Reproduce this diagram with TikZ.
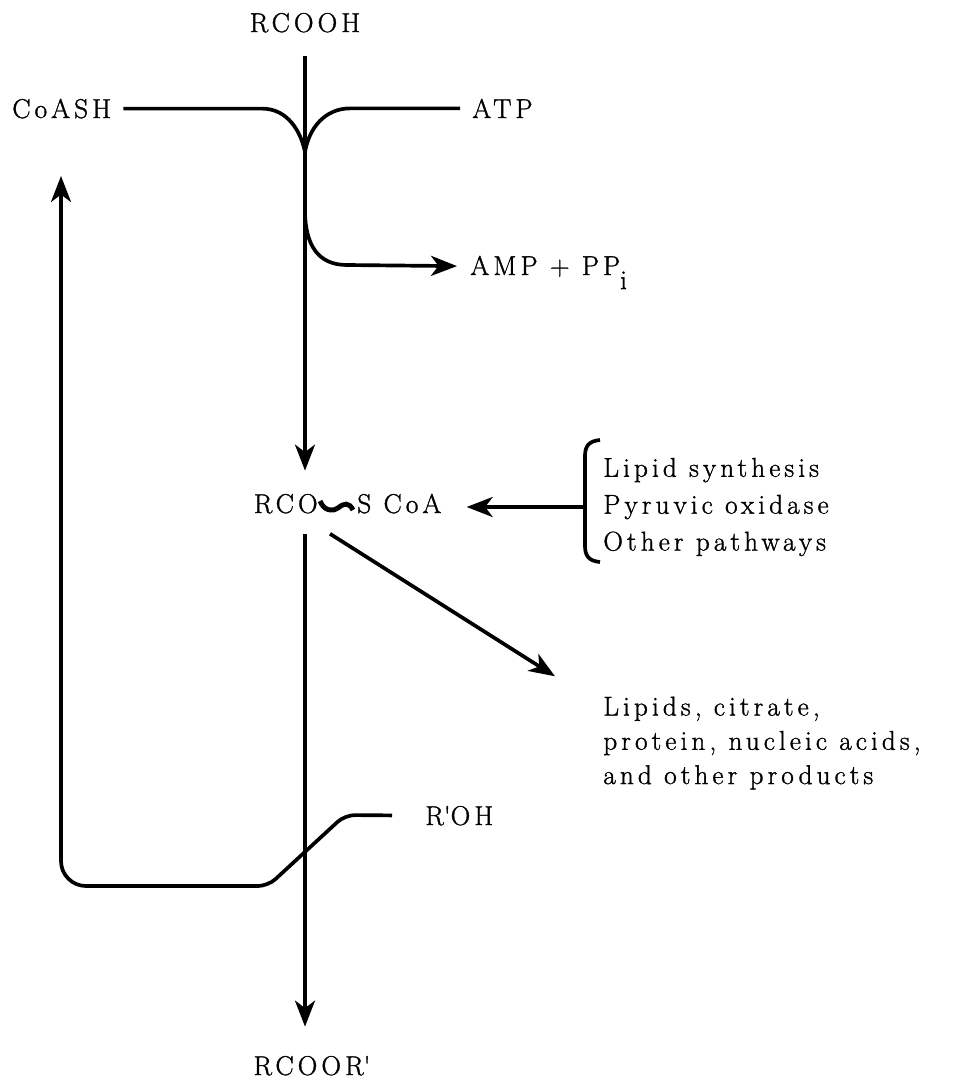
\documentclass[tikz,border=0pt]{standalone}
\usepackage{fontspec}
\setmainfont{Latin Modern Roman}[LetterSpace=15,FakeBold=1.2]
\usetikzlibrary{arrows.meta}
\begin{document}
\begin{tikzpicture}[x=0.02cm,y=-0.02cm,
 font=\fontsize{15.5}{21}\selectfont,
 lbl/.style={inner sep=0pt},
 flow/.style={line width=2.1pt},
 tip/.style={-{Stealth[length=0.52cm,width=0.4cm,inset=0.15cm]}}]
 \useasboundingbox (0,0) rectangle (971,1080);
 \node (rcooh) at (305,32) [lbl,anchor=base] {RCOOH};
 \node (coash) at (12,118) [lbl,anchor=base west] {CoASH};
 \node (atp) at (472,118) [lbl,anchor=base west] {ATP};
 \node (amp) at (470,275) [lbl,anchor=base west] {AMP + PP\smash{\raisebox{-1.2ex}{i}}};
 \node (rco) at (318,513) [lbl,anchor=base east] {RCO};
 \node (scoa) at (357,513) [lbl,anchor=base west] {S CoA};
 \node (srcs) at (603,507) [lbl,anchor=west,align=left] {Lipid synthesis\\Pyruvic oxidase\\Other pathways};
 \node (prods) at (603,743) [lbl,anchor=west,align=left] {Lipids, citrate,\\[-1.5pt]protein, nucleic acids,\\[-1.5pt]and other products};
 \node (roh) at (425,825) [lbl,anchor=base west] {R\textquotesingle OH};
 \node (rcoor) at (312,1075) [lbl,anchor=base] {RCOOR\textquotesingle};
 \coordinate (join) at (305,152);
 \coordinate (split) at (305,210);
 \coordinate (brace) at (585,507);
 \coordinate (ret) at (61,176);
 \draw[flow,tip,shorten <=0.46cm,shorten >=0.46cm] (rcooh.south) -- (rcooh.south |- rco.north);
 \draw[flow,tip,shorten <=0.4cm,shorten >=0.58cm] (rcooh.south |- rco.south) -- (rcooh.south |- rcoor.north);
 \draw[flow,shorten <=0.24cm] (coash.east) -- (coash.east -| 262,0) .. controls +(26,0) and (301,132) .. (join);
 \draw[flow,shorten <=0.24cm] (atp.west) -- (atp.west -| 350,0) .. controls +(-25,0) and (309,128) .. (join);
 \draw[flow,tip,shorten >=0.26cm] (split) .. controls (305,245) and (318,265) .. (347,265) -- (amp.west);
 \draw[line width=2.8pt] (320,501) .. controls (324,511) and (333,512) .. (338,508) .. controls (344,503) and (349,502) .. (353,510);
 \draw[flow] (600,440) .. controls (589,441) and (585,446) .. (585,456) -- (585,546) .. controls (585,556) and (589,561) .. (600,562);
 \draw[flow,tip,shorten >=0.5cm] (brace) -- (brace -| scoa.east);
 \draw[flow,tip] ([shift={(12,20)}]rco.south east) -- ([shift={(-48,-20)}]prods.north west);
 \draw[flow,tip,rounded corners=0.2cm,shorten <=0.66cm] (roh.west) -- (345,815) -- (268,886) [rounded corners=0.5cm] -- (ret |- 0,886) -- (ret);
\end{tikzpicture}
\end{document}
